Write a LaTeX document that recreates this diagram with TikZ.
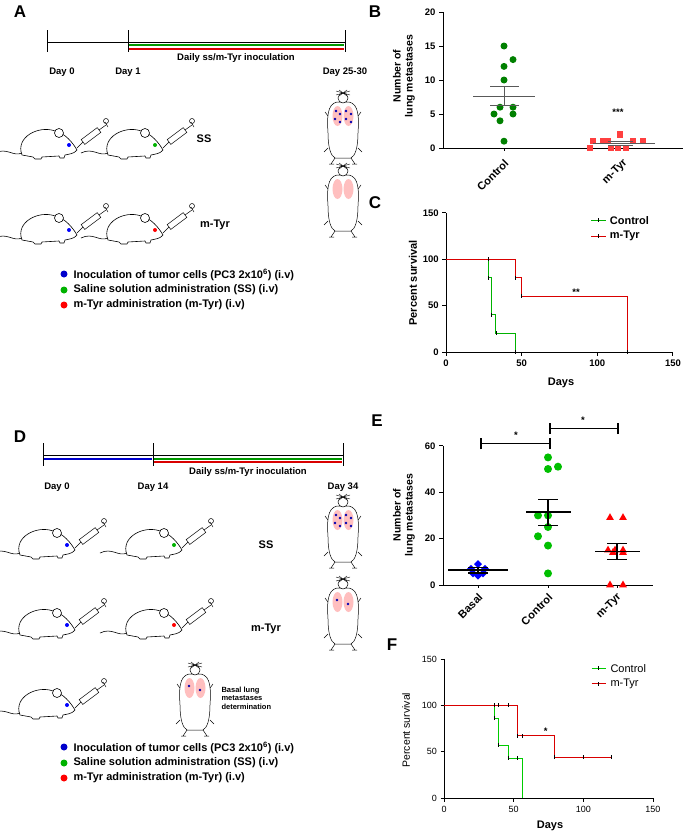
\documentclass[tikz,border=0pt]{standalone}
\usepackage{fontspec}
\setmainfont{Liberation Sans}
\usetikzlibrary{shapes.geometric}
\begin{document}
\begin{tikzpicture}[x=1pt,y=-1pt,font=\bfseries\fontsize{11}{12}\selectfont,
  lab/.style={font=\bfseries\fontsize{17}{17}\selectfont},
  tl/.style={font=\bfseries\fontsize{9.5}{10}\selectfont},
  ax/.style={line width=1pt},
  gdot/.style={circle,fill=green!50!black,inner sep=0,minimum size=7pt},
  lgdot/.style={circle,fill=green!75!black,inner sep=0,minimum size=8pt},
  rsq/.style={rectangle,fill=red!75,inner sep=0,minimum size=6.5pt},
  bdia/.style={diamond,fill=blue,inner sep=0,minimum size=8pt},
  rtri/.style={regular polygon,regular polygon sides=3,fill=red,inner sep=0,minimum size=9pt},
  tk/.style={rectangle,fill=black,inner sep=0,minimum width=0.7pt,minimum height=4pt},
  pics/mouse/.style={code={
    \draw[line width=0.6pt,fill=white] (-25,10) .. controls (-32,-8) and (-8,-20) .. (8,-14)
      .. controls (18,-12) and (26,-2) .. (30,5) .. controls (27,9) and (22,9) .. (18,10)
      -- (17,13) -- (13,13) -- (12,11) -- (-5,12) -- (-6,14) -- (-12,14) -- (-14,12) -- cycle;
    \draw[line width=0.6pt] (-25,8) .. controls (-34,12) and (-40,2) .. (-52,8);
    \draw[line width=0.6pt,fill=white] (12,-12) circle (4.5);
    \draw[line width=0.5pt,fill=white] (37.8,-0.6) -- (53.8,-12.6) -- (50.2,-17.4) -- (34.2,-5.4) -- cycle;
    \draw[line width=0.5pt] (30,3) -- (36,-3) (52,-15) -- (59,-20);
    \draw[line width=0.5pt] (58,-23) -- (61,-18) (59,-24) circle (2.5);
    \fill[#1] (22,0) circle (2);
  }},
  pics/upmouse/.style={code={
    \draw[line width=0.5pt,fill=white] (-6,-26) .. controls (-16,-24) and (-16,-10) .. (-15,5)
      .. controls (-15,20) and (-12,28) .. (-8,30) -- (8,30) .. controls (12,28) and (15,20) .. (15,5)
      .. controls (16,-10) and (16,-24) .. (6,-26) -- cycle;
    \draw[line width=0.5pt,fill=white] (0,-30) ellipse (5 and 5);
    \draw[line width=0.4pt] (-7,-37) -- (7,-33) (7,-37) -- (-7,-33) (-4,-38)--(4,-32) (4,-38)--(-4,-32);
    \draw[line width=0.5pt] (-8,30) -- (-12,36) (-14,36)--(-9,36) (8,30) -- (12,36) (9,36)--(14,36)
      (-15,-12) -- (-18,-16) (15,-12) -- (18,-16) (-15,20)--(-19,24) (15,20)--(19,24);
    \fill[red!25] (-5.5,-12) ellipse (5 and 10) (5.5,-12) ellipse (5 and 10);
    #1
  }}]
\useasboundingbox (0,0) rectangle (685,835);

% ================= Panel A
\node[lab] (A) at (20,12) {A};
\draw[ax] (47,42) -- (345,42);
\draw[ax] (47,30) -- (47,52) (128,30) -- (128,52) (345,30) -- (345,52);
\draw[line width=2pt,green!60!black] (129,45) -- (344,45);
\draw[line width=2pt,red!85!black] (129,48.5) -- (344,48.5);
\node[tl] (dA) at (236,58) {Daily ss/m-Tyr inoculation};
\node[tl] (a0) at (62,72) {Day 0};
\node[tl] (a1) at (128,72) {Day 1};
\node[tl] (a2) at (345,72) {Day 25-30};
\pic at (47,145) {mouse=blue};
\pic at (133,145) {mouse=green!70!black};
\node (ss1) at (204,139) {SS};
\pic at (47,230) {mouse=blue};
\pic at (133,230) {mouse=red};
\node (mt1) at (215,225) {m-Tyr};
\pic at (343,128) {upmouse={\foreach \p in {(-7,-17),(-3,-14),(-8,-9),(-3,-6),(3,-17),(8,-14),(3,-9),(8,-6)} \fill[blue!70!black] \p circle (1.3);}};
\pic at (343,201) {upmouse={}};
\node[circle,fill=blue!80!black,inner sep=0,minimum size=7pt] (la1) at (64,274) {};
\node[circle,fill=green!70!black,inner sep=0,minimum size=7pt] (la2) at (64,290) {};
\node[circle,fill=red,inner sep=0,minimum size=7pt] (la3) at (64,305) {};
\node[anchor=west] (ta1) at (70,275) {Inoculation of tumor cells (PC3 2x10\textsuperscript{6}) (i.v)};
\node[anchor=west] (ta2) at (70,290) {Saline solution administration (SS) (i.v)};
\node[anchor=west] (ta3) at (70,305) {m-Tyr administration (m-Tyr) (i.v)};

% ================= Panel B
\node[lab] (B) at (375,12) {B};
\begin{scope}[shift={(443,148)},yscale=-6.8]
  \draw[ax] (0,20) -- (0,0) -- (240,0);
  \foreach \v in {0,5,10,15,20}{\draw[ax] (-4,\v) -- (0,\v); \node[tl,anchor=east] at (-4,\v) {\v};}
  \draw[ax] (61,0) -- (61,-0.5) (180,0) -- (180,-0.5);
  \foreach \x/\y in {61/15,70/13,61/12,61/10,70/6,57/6,51/5,70/5,57/4,61/1} \node[gdot] at (\x,\y) {};
  \foreach \x/\y in {147/0,150/1,160/1,165/1,177/2,168/0,175/0,183/0,190/1,200/1} \node[rsq] at (\x,\y) {};
  \draw[gray!70!black,line width=0.8pt] (30,7.6) -- (92,7.6) (47,9.1) -- (76,9.1) (47,6.2) -- (76,6.2) (61,6.2) -- (61,9.1);
  \draw[gray!70!black,line width=0.8pt] (150,0.7) -- (212,0.7) (165,1) -- (190,1) (165,0.4) -- (190,0.4);
  \node[tl] at (175,5.2) {***};
  \node[anchor=east,rotate=45] at (66,-1.6) {Control};
  \node[anchor=east,rotate=45] at (185,-1.6) {m-Tyr};
\end{scope}
\node[rotate=90,align=center,font=\bfseries\fontsize{10.5}{12}\selectfont] (by) at (404,76) {Number of\\lung metastases};

% ================= Panel C
\node[lab] (C) at (375,203) {C};
\begin{scope}[shift={(446,352)},xscale=1.513,yscale=-0.927]
  \draw[ax] (0,150) -- (0,0) -- (150,0);
  \foreach \v in {0,50,100,150}{\draw[ax] (-2.5,\v) -- (0,\v); \node[tl,anchor=east] at (-2.5,\v) {\v};
    \draw[ax] (\v,0) -- (\v,-4); \node[tl,anchor=north] at (\v,-5) {\v};}
  \draw[green!70!black,line width=1pt] (0,100) -| (28,80) -| (30,40) -| (33,20) -| (46,0);
  \draw[red!85!black,line width=1pt] (0,100) -| (46,80) -| (50,60) -| (120,0);
  \foreach \x/\y in {28/80,30/40,33/20,46/80,50/60,120/0,46/0,28/100} \node[tk] at (\x,\y) {};
  \node[tl] at (86,64) {**};
  \draw[green!70!black,line width=1pt] (96,142) -- (106,142); \node[tk] at (101,142) {};
  \draw[red!85!black,line width=1pt] (96,125) -- (106,125); \node[tk] at (101,125) {};
  \node[anchor=west] at (106,142) {Control};
  \node[anchor=west] at (106,125) {m-Tyr};
\end{scope}
\node[tl,font=\bfseries\fontsize{11}{12}\selectfont] (cx) at (561,383) {Days};
\node[rotate=90,font=\bfseries\fontsize{11}{12}\selectfont] (cy) at (413,283) {Percent survival};

% ================= Panel D
\node[lab] (D) at (20,437) {D};
\draw[ax] (43,455) -- (343,455);
\draw[ax] (43,443) -- (43,466) (153,443) -- (153,466) (343,443) -- (343,466);
\draw[line width=2pt,blue!80!black] (44,458.5) -- (152,458.5);
\draw[line width=2pt,green!60!black] (154,458.5) -- (342,458.5);
\draw[line width=2pt,red!85!black] (154,462) -- (342,462);
\node[tl] (dD) at (248,472) {Daily ss/m-Tyr inoculation};
\node[tl] (d0) at (57,487) {Day 0};
\node[tl] (d1) at (153,487) {Day 14};
\node[tl] (d2) at (343,487) {Day 34};
\pic at (45,545) {mouse=blue};
\pic at (152,545) {mouse=green!70!black};
\node (ss2) at (266,545) {SS};
\pic at (45,625) {mouse=blue};
\pic at (152,625) {mouse=red};
\node (mt2) at (266,629) {m-Tyr};
\pic at (45,705) {mouse=blue};
\pic at (343,532) {upmouse={\foreach \p in {(-7,-17),(-3,-14),(-8,-9),(-3,-6),(3,-17),(8,-14),(3,-9),(8,-6)} \fill[blue!70!black] \p circle (1.3);}};
\pic at (343,614) {upmouse={\foreach \p in {(-6,-14),(5,-10)} \fill[blue!70!black] \p circle (1.3);}};
\pic at (195,700) {upmouse={\foreach \p in {(-6,-14),(5,-10)} \fill[blue!70!black] \p circle (1.3);}};
\node[align=left,anchor=west,font=\bfseries\fontsize{7.5}{8.5}\selectfont] (bas) at (218,698) {Basal lung\\metastases\\determination};
\node[circle,fill=blue!80!black,inner sep=0,minimum size=7pt] (ld1) at (64,747) {};
\node[circle,fill=green!70!black,inner sep=0,minimum size=7pt] (ld2) at (64,763) {};
\node[circle,fill=red,inner sep=0,minimum size=7pt] (ld3) at (64,778) {};
\node[anchor=west] (td1) at (70,748) {Inoculation of tumor cells (PC3 2x10\textsuperscript{6}) (i.v)};
\node[anchor=west] (td2) at (70,763) {Saline solution administration (SS) (i.v)};
\node[anchor=west] (td3) at (70,778) {m-Tyr administration (m-Tyr) (i.v)};

% ================= Panel E
\node[lab] (E) at (377,421) {E};
\begin{scope}[shift={(443,585)},yscale=-2.32]
  \draw[ax] (0,60) -- (0,0) -- (210,0);
  \foreach \v in {0,20,40,60}{\draw[ax] (-4,\v) -- (0,\v); \node[tl,anchor=east] at (-4,\v) {\v};}
  \draw[ax] (35,0) -- (35,-1.5) (105,0) -- (105,-1.5) (174,0) -- (174,-1.5);
  \foreach \x/\y in {35/9,28/7,42/7,35/4,30/5,40/5} \node[bdia] at (\x,\y) {};
  \foreach \x/\y in {105/55,105/50,115/51,95/30,105/30,105/25,95/21,105/17,105/5} \node[lgdot] at (\x,\y) {};
  \foreach \x/\y in {167/29,180/29,165/15,172/15,180/15,170/14,180/14,167/0,180/0} \node[rtri] at (\x,\y) {};
  \draw[line width=1.2pt] (5,6.5) -- (65,6.5) (25,7.5) -- (45,7.5) (25,5.2) -- (45,5.2) (35,5.2) -- (35,7.5);
  \draw[line width=1.2pt] (83,31.5) -- (128,31.5) (95,37) -- (115,37) (95,25.7) -- (115,25.7) (105,25.7) -- (105,37);
  \draw[line width=1.2pt] (152,14.5) -- (197,14.5) (164,18) -- (184,18) (164,11) -- (184,11) (174,11) -- (174,18);
  \draw[line width=1.2pt] (38,61) -- (107,61) (38,58.5) -- (38,63.5) (107,58.5) -- (107,63.5);
  \draw[line width=1.2pt] (107,67.5) -- (175,67.5) (107,65) -- (107,70) (175,65) -- (175,70);
  \node[tl] at (73,64.5) {*};
  \node[tl] at (140,71) {*};
  \node[anchor=east,rotate=45] at (40,-3.5) {Basal};
  \node[anchor=east,rotate=45] at (110,-3.5) {Control};
  \node[anchor=east,rotate=45] at (179,-3.5) {m-Tyr};
\end{scope}
\node[rotate=90,align=center,font=\bfseries\fontsize{10.5}{12}\selectfont] (ey) at (404,515) {Number of\\lung metastases};

% ================= Panel F
\node[lab] (F) at (392,645) {F};
\begin{scope}[shift={(444,798)},xscale=1.393,yscale=-0.927]
  \draw[line width=0.8pt] (0,150) -- (0,0) -- (150,0);
  \foreach \v in {0,50,100,150}{\draw[line width=0.8pt] (-2.5,\v) -- (0,\v); \node[anchor=east,font=\fontsize{9}{10}\selectfont] at (-2.5,\v) {\v};
    \draw[line width=0.8pt] (\v,0) -- (\v,-4); \node[anchor=north,font=\fontsize{9}{10}\selectfont] at (\v,-5) {\v};}
  \draw[green!80!black,line width=1pt] (0,100) -| (36,86) -| (39,57) -| (46,43) -| (56,0);
  \draw[red!85!black,line width=1pt] (0,100) -| (53,67) -| (79,44) -- (120,44);
  \foreach \x/\y in {36/100,39/100,46/100,36/86,39/57,46/43,53/43,53/67,56/67,79/44,100/44,120/44} \node[tk] at (\x,\y) {};
  \node[tl] at (73,72) {*};
  \draw[green!80!black,line width=1pt] (106,140) -- (116,140); \node[tk] at (111,140) {};
  \draw[red!85!black,line width=1pt] (106,123) -- (116,123); \node[tk] at (111,123) {};
  \node[anchor=west,font=\fontsize{11}{12}\selectfont] at (117,140) {Control};
  \node[anchor=west,font=\fontsize{11}{12}\selectfont] at (117,123) {m-Tyr};
\end{scope}
\node (fx) at (550,826) {Days};
\node[rotate=90,font=\fontsize{10.5}{12}\selectfont] (fy) at (406,730) {Percent survival};
\end{tikzpicture}
\end{document}
